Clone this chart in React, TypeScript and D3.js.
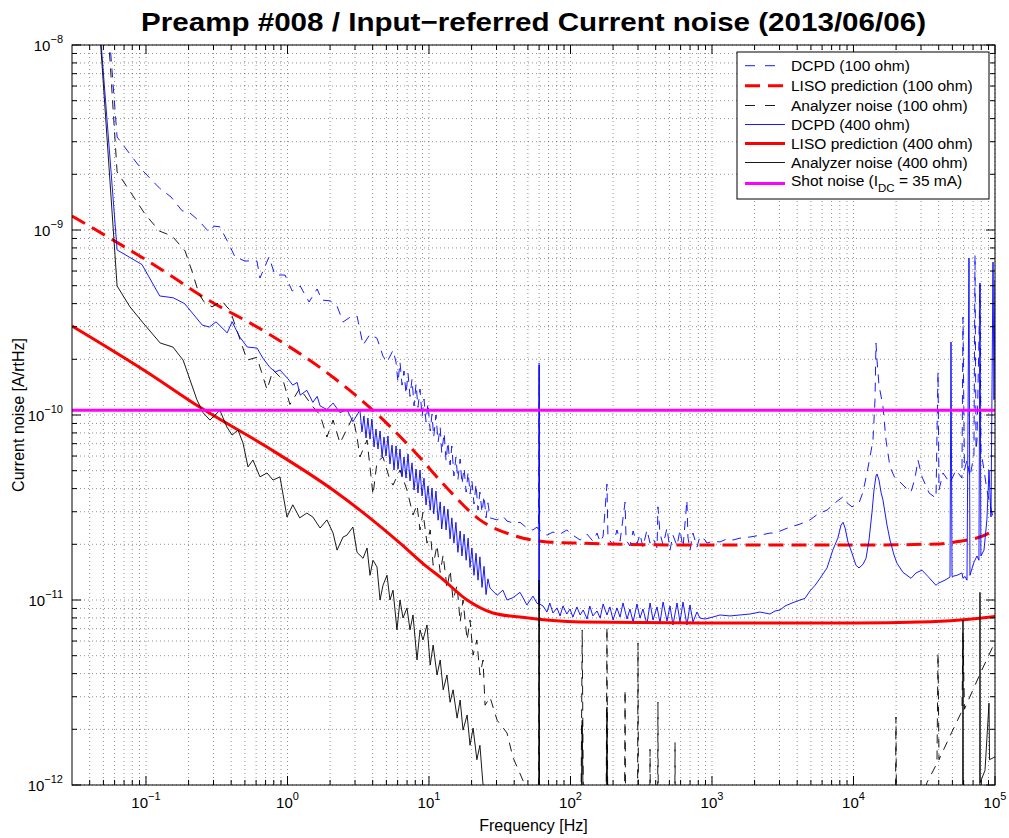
import React from 'react';
import * as d3 from 'd3';

// ---------------- data (frequency [Hz], current noise [A/rtHz]) ----------------
const xTickValues = [1e-1, 1e0, 1e1, 1e2, 1e3, 1e4, 1e5];
const xTickExps = ['\u22121', '0', '1', '2', '3', '4', '5'];
const yTickValues = [1e-12, 1e-11, 1e-10, 1e-9, 1e-8];
const yTickExps = ['\u221212', '\u221211', '\u221210', '\u22129', '\u22128'];

const shotNoise = 1.06e-10;

const liso100 = [
  [0.03, 1.19e-9], [0.155, 5.57e-10], [0.241, 4.45e-10], [0.717, 2.78e-10], [2.1, 1.6e-10],
  [4.02, 1.06e-10], [7.71, 6.47e-11], [13.4, 4.03e-11], [22.9, 2.71e-11], [39.2, 2.24e-11],
  [68.2, 2.06e-11], [117, 2.03e-11], [823, 1.98e-11], [10000, 1.98e-11], [40850, 2.01e-11],
  [56560, 2.08e-11], [78310, 2.19e-11], [100000, 2.39e-11],
];

const liso400 = [
  [0.03, 3.03e-10], [0.1, 1.72e-10], [0.241, 1.1e-10], [0.717, 6.71e-11], [2.1, 3.93e-11],
  [3.25, 3.06e-11], [6.24, 2.03e-11], [9.68, 1.51e-11], [12.0, 1.33e-11], [18.6, 1.0e-11],
  [28.3, 8.51e-12], [44.0, 8.09e-12], [117, 7.6e-12], [823, 7.51e-12], [10590, 7.51e-12],
  [29510, 7.6e-12], [56560, 7.8e-12], [100000, 8.15e-12],
];

const dcpd100 = [
  [0.05, 3.0e-8], [0.0625, 3.18e-9], [0.0938, 2.11e-9], [0.125, 1.68e-9], [0.15, 1.51e-9],
  [0.18, 1.27e-9], [0.201, 1.25e-9], [0.237, 1.12e-9], [0.279, 9.75e-10], [0.303, 1.05e-9],
  [0.333, 1.04e-9], [0.386, 8.38e-10], [0.426, 7.14e-10], [0.501, 6.8e-10], [0.608, 6.8e-10],
  [0.639, 5.5e-10], [0.74, 7.14e-10], [0.816, 5.71e-10], [0.96, 5.71e-10], [1.08, 4.68e-10],
  [1.23, 4.98e-10], [1.42, 4.08e-10], [1.62, 4.8e-10], [1.75, 4.18e-10], [2.0, 4.14e-10],
  [2.24, 3.88e-10], [2.47, 3.18e-10], [2.77, 3.38e-10], [3.1, 3.43e-10], [3.42, 2.39e-10],
  [3.83, 2.73e-10], [4.29, 2.6e-10], [4.73, 2.08e-10], [5.05, 1.93e-10], [5.57, 2.24e-10],
  [5.85, 1.93e-10], [6.04, 1.5e-10], [6.24, 1.93e-10], [6.45, 1.45e-10], [6.66, 1.73e-10],
  [6.88, 1.3e-10], [7.11, 1.68e-10], [7.34, 1.26e-10], [7.59, 1.56e-10], [7.84, 1.12e-10],
  [8.1, 1.47e-10], [8.36, 1.1e-10], [8.64, 1.38e-10], [8.93, 9.75e-11], [9.22, 1.22e-10],
  [9.53, 9.17e-11], [9.84, 1.16e-10], [10.2, 8.2e-11], [10.5, 1.01e-10], [10.8, 7.6e-11],
  [11.2, 1.0e-10], [11.6, 7.15e-11], [12.0, 8.61e-11], [12.3, 6.23e-11], [12.8, 8.0e-11],
  [13.2, 5.64e-11], [13.6, 7.15e-11], [14.1, 5.37e-11], [14.5, 6.8e-11], [15.0, 4.68e-11],
  [15.5, 5.93e-11], [16.0, 4.45e-11], [16.6, 5.78e-11], [17.1, 4.23e-11], [17.7, 5.17e-11],
  [18.3, 3.83e-11], [18.9, 4.92e-11], [19.5, 3.74e-11], [20.1, 4.45e-11], [20.8, 3.3e-11],
  [21.5, 4.23e-11], [22.2, 3.06e-11], [22.9, 3.83e-11], [23.7, 2.98e-11], [24.5, 3.65e-11],
  [25.3, 2.78e-11], [26.1, 3.35e-11], [27.0, 2.78e-11],
  [30.3, 2.71e-11], [33.3, 2.84e-11], [35.6, 2.67e-11], [39.2, 2.61e-11], [44.0, 2.63e-11],
  [49.2, 2.45e-11], [54.3, 2.39e-11], [58.0, 2.48e-11], [59.5, 2.39e-11], [60, 1.91e-10],
  [60.5, 2.39e-11], [68.2, 2.24e-11], [75.2, 2.33e-11], [84.4, 2.27e-11], [94.2, 2.39e-11],
  [104, 2.24e-11], [117, 2.11e-11], [131, 2.27e-11], [144, 2.08e-11], [154, 2.3e-11],
  [162, 2.06e-11], [170, 2.21e-11], [181, 4.23e-11], [184, 2.16e-11], [200, 1.98e-11],
  [213, 2.39e-11], [224, 2.08e-11], [243, 3.38e-11], [247, 2.11e-11], [263, 1.96e-11],
  [277, 2.36e-11], [295, 2.01e-11], [310, 2.27e-11], [325, 1.93e-11], [347, 2.39e-11],
  [365, 2.03e-11], [383, 2.16e-11], [409, 1.91e-11], [415, 3.19e-11], [429, 2.3e-11],
  [451, 1.98e-11], [481, 2.45e-11], [505, 1.86e-11], [530, 2.24e-11], [566, 1.96e-11],
  [594, 2.39e-11], [624, 1.91e-11], [665, 3.47e-11], [676, 2.19e-11], [699, 1.86e-11],
  [734, 2.3e-11], [783, 1.93e-11], [822, 2.21e-11], [893, 2.11e-11], [922, 2.03e-11],
  [1016, 2.08e-11], [1139, 2.06e-11], [1276, 2.14e-11], [1408, 2.11e-11], [1577, 2.16e-11],
  [1855, 2.19e-11], [2184, 2.24e-11], [2569, 2.3e-11], [2788, 2.3e-11], [3560, 2.48e-11],
  [4187, 2.57e-11], [4930, 2.71e-11], [5610, 2.92e-11], [6500, 3.06e-11], [7400, 3.35e-11],
  [8030, 3.51e-11], [8440, 3.61e-11], [9000, 3.35e-11], [9760, 3.19e-11], [10410, 3.27e-11],
  [10940, 3.35e-11], [11670, 3.83e-11], [12460, 4.86e-11], [13080, 5.93e-11], [13730, 7.32e-11],
  [14190, 1.21e-10], [14420, 2.45e-10], [14660, 1.98e-10], [15140, 1.45e-10], [16160, 1.11e-10],
  [16970, 7.32e-11], [18110, 5.24e-11], [19640, 4.56e-11], [21670, 4.29e-11], [23500, 4.03e-11],
  [25490, 3.83e-11], [27200, 4.56e-11], [28560, 5.71e-11], [30500, 4.63e-11], [34200, 3.79e-11],
  [38290, 3.55e-11], [39550, 1.71e-10], [40200, 3.93e-11], [42900, 4.86e-11], [48070, 4.29e-11],
  [53000, 5.04e-11], [58400, 4.56e-11], [59380, 3.38e-10], [60800, 5.04e-11], [63400, 5.71e-11],
  [66530, 4.63e-11], [71000, 6.08e-11], [72230, 7.33e-10], [73400, 6.47e-11], [74600, 7.32e-11],
  [78310, 5.04e-10], [79500, 6.47e-11], [83600, 5.04e-11], [87700, 3.93e-11], [92200, 3.27e-11],
  [96800, 2.81e-11], [100000, 2.98e-11],
];

const analyzer100 = [
  [0.05, 3.0e-8], [0.0625, 2.06e-9], [0.0795, 1.56e-9], [0.0984, 1.22e-9], [0.124, 9.88e-10],
  [0.153, 9.28e-10], [0.189, 7.7e-10], [0.211, 6.01e-10], [0.237, 4.51e-10], [0.257, 4.09e-10],
  [0.293, 3.84e-10], [0.344, 4.14e-10], [0.373, 3.84e-10], [0.392, 3.7e-10], [0.518, 1.98e-10],
  [0.608, 2.05e-10], [0.717, 1.37e-10], [0.79, 1.75e-10], [0.929, 1.55e-10], [1.04, 1.14e-10],
  [1.22, 1.39e-10], [1.51, 1.11e-10], [1.7, 1.0e-10], [1.9, 7.6e-11], [2.1, 9.39e-11],
  [2.35, 7.05e-11], [2.9, 9.75e-11], [3.1, 7.6e-11], [3.25, 5.93e-11], [3.65, 7.32e-11],
  [4.02, 3.7e-11], [4.29, 5.57e-11], [4.73, 5.93e-11], [5.3, 4.45e-11], [5.57, 4.18e-11],
  [6.24, 5.04e-11], [6.99, 3.93e-11], [7.71, 2.88e-11], [8.23, 3.27e-11], [8.64, 2.39e-11],
  [9.07, 2.98e-11], [9.68, 2.03e-11], [10.2, 2.39e-11], [10.7, 1.54e-11], [11.4, 1.98e-11],
  [12.0, 1.41e-11], [12.6, 1.75e-11], [13.4, 1.16e-11], [14.1, 1.45e-11], [14.8, 1.0e-11],
  [15.8, 1.2e-11], [16.6, 7.6e-12], [17.4, 1.0e-11], [18.6, 6.08e-12], [19.5, 7.8e-12],
  [20.5, 5.04e-12], [21.8, 6.08e-12], [22.9, 3.93e-12], [24.1, 4.74e-12], [24.9, 2.7e-12],
  [27.0, 2.98e-12], [30.3, 2.24e-12], [35.6, 1.91e-12], [39.2, 1.41e-12], [46.1, 1.06e-12],
  [51.7, 8.3e-13], [58.0, 6.5e-13], [59.5, 6.0e-13], [60, 1.2e-11], [60.5, 4e-13],
  [118, 4e-13], [121, 6.89e-12], [124, 4e-13], [178, 4e-13], [181, 7.14e-12], [184, 4e-13],
  [240, 4e-13], [243, 3.27e-12], [246, 4e-13], [297, 4e-13], [300, 5.86e-12], [303, 4e-13],
  [362, 4e-13], [365, 1.56e-12], [368, 4e-13], [412, 4e-13], [415, 2.8e-12], [418, 4e-13],
  [545, 4e-13], [548, 1.7e-12], [551, 4e-13], [19700, 4e-13], [19960, 2.33e-12], [20200, 4e-13],
  [29000, 7e-13], [33040, 1.03e-12], [38900, 1.31e-12], [39550, 5.17e-12], [40200, 1.37e-12],
  [48070, 1.84e-12], [58400, 2.51e-12], [59380, 6.63e-12], [60800, 2.57e-12], [78310, 3.98e-12],
  [100000, 5.93e-12],
];

const dcpd400 = [
  [0.045, 2.0e-8], [0.0625, 7.8e-10], [0.0938, 6.5e-10], [0.125, 4.4e-10], [0.156, 4.3e-10],
  [0.1875, 4.0e-10], [0.25, 3.06e-10], [0.281, 2.99e-10], [0.3125, 3.19e-10], [0.375, 2.78e-10],
  [0.406, 3.19e-10], [0.46, 2.64e-10], [0.52, 2.33e-10], [0.61, 2.3e-10], [0.67, 2.03e-10],
  [0.75, 1.81e-10], [0.82, 1.71e-10], [0.885, 1.75e-10], [1.0, 1.58e-10], [1.09, 1.45e-10],
  [1.17, 1.5e-10], [1.23, 1.28e-10], [1.37, 1.36e-10], [1.51, 1.17e-10], [1.62, 1.26e-10],
  [1.7, 1.12e-10], [1.9, 1.07e-10], [2.1, 1.16e-10], [2.35, 1.03e-10], [2.63, 1.07e-10],
  [2.9, 9.2e-11], [3.25, 1.06e-10], [3.36, 8.1e-11], [3.47, 9.88e-11], [3.59, 7.51e-11],
  [3.7, 9.63e-11], [3.83, 7.41e-11], [3.95, 9.51e-11], [4.09, 6.71e-11], [4.22, 8.4e-11],
  [4.36, 6.55e-11], [4.51, 8.2e-11], [4.66, 5.93e-11], [4.81, 7.6e-11], [4.97, 6.0e-11],
  [5.13, 7.7e-11], [5.3, 5.44e-11], [5.48, 6.88e-11], [5.66, 5.04e-11], [5.85, 6.8e-11],
  [6.04, 5.1e-11], [6.24, 6.55e-11], [6.45, 4.62e-11], [6.66, 5.93e-11], [6.88, 4.56e-11],
  [7.11, 6.15e-11], [7.34, 4.4e-11], [7.59, 5.51e-11], [7.84, 3.93e-11], [8.1, 5.1e-11],
  [8.36, 3.79e-11], [8.64, 5.04e-11], [8.93, 3.65e-11], [9.22, 4.56e-11], [9.53, 3.26e-11],
  [9.84, 4.13e-11], [10.2, 3.06e-11], [10.5, 4.03e-11], [10.8, 2.92e-11], [11.2, 3.88e-11],
  [11.6, 2.7e-11], [12.0, 3.39e-11], [12.3, 2.42e-11], [12.8, 3.22e-11], [13.2, 2.39e-11],
  [13.6, 3.1e-11], [14.1, 2.14e-11], [14.5, 2.78e-11], [15.0, 2.03e-11], [15.5, 2.63e-11],
  [16.0, 1.81e-11], [16.6, 2.36e-11], [17.1, 1.73e-11], [17.7, 2.27e-11], [18.3, 1.64e-11],
  [18.9, 2.16e-11], [19.5, 1.5e-11], [20.1, 1.91e-11], [20.8, 1.36e-11], [21.5, 1.79e-11],
  [22.2, 1.28e-11], [22.9, 1.71e-11], [23.7, 1.17e-11], [24.5, 1.52e-11], [25.3, 1.07e-11],
  [26.1, 1.3e-11], [27.0, 1.16e-11], [30.3, 1.06e-11], [33.3, 1.13e-11], [35.6, 1.0e-11],
  [39.2, 1.03e-11], [44.0, 1.1e-11], [49.2, 9.4e-12], [54.3, 1.05e-11], [58.0, 9.6e-12],
  [59.5, 9.5e-12], [60, 1.86e-10], [60.5, 9.5e-12], [64.0, 9.28e-12], [68.1, 8.61e-12],
  [71.4, 9.63e-12], [75.2, 8.51e-12], [80.3, 9.06e-12], [84.4, 8.2e-12], [88.5, 9.28e-12],
  [94.2, 8.4e-12], [99.2, 8.94e-12], [104, 8.09e-12], [111, 9.17e-12], [117, 8.3e-12],
  [123, 8.83e-12], [131, 7.89e-12], [137, 9.28e-12], [144, 8.2e-12], [154, 8.72e-12],
  [162, 7.99e-12], [170, 9.51e-12], [181, 8.3e-12], [190, 9.17e-12], [200, 7.8e-12],
  [213, 9.06e-12], [224, 8.09e-12], [235, 9.63e-12], [251, 7.89e-12], [263, 8.94e-12],
  [277, 7.6e-12], [295, 9.51e-12], [310, 7.99e-12], [325, 8.94e-12], [347, 7.42e-12],
  [365, 9.63e-12], [383, 7.8e-12], [409, 9.17e-12], [429, 7.51e-12], [451, 9.75e-12],
  [481, 7.7e-12], [505, 9.28e-12], [530, 7.33e-12], [566, 9.63e-12], [594, 7.6e-12],
  [624, 9.75e-12], [665, 7.33e-12], [699, 9.4e-12], [734, 7.6e-12], [783, 8.61e-12],
  [822, 7.99e-12], [893, 7.89e-12], [1016, 8.09e-12], [1139, 8.3e-12], [1340, 8.2e-12],
  [1577, 8.3e-12], [1855, 8.4e-12], [2184, 8.61e-12], [2569, 8.4e-12], [2788, 8.72e-12],
  [3025, 8.83e-12], [3282, 9.28e-12], [3676, 9.63e-12], [4187, 1.0e-11], [4540, 1.02e-11],
  [4930, 1.12e-11], [5350, 1.2e-11], [5800, 1.31e-11], [6500, 1.49e-11], [7140, 1.86e-11],
  [7750, 2.16e-11], [8160, 2.54e-11], [8440, 2.63e-11], [8720, 2.45e-11], [9140, 2.06e-11],
  [9760, 1.79e-11], [10410, 1.54e-11], [10940, 1.49e-11], [11670, 1.56e-11], [12260, 1.68e-11],
  [12870, 2.11e-11], [13510, 2.98e-11], [13960, 3.93e-11], [14420, 4.68e-11], [14660, 4.8e-11],
  [15140, 4.45e-11], [15640, 3.83e-11], [16160, 3.47e-11], [17250, 2.54e-11], [18110, 2.11e-11],
  [19330, 1.75e-11], [20290, 1.58e-11], [22380, 1.41e-11], [25490, 1.31e-11], [27650, 1.4e-11],
  [30500, 1.45e-11], [33600, 1.34e-11], [38290, 1.2e-11], [39550, 1.23e-11], [44300, 1.28e-11],
  [48070, 1.33e-11], [48880, 2.48e-10], [49700, 1.34e-11], [53900, 1.36e-11], [58400, 1.4e-11],
  [59380, 1.31e-11], [61400, 1.34e-11], [63400, 1.28e-11], [65490, 7.05e-10], [66530, 1.36e-11],
  [71000, 1.6e-11], [74600, 1.73e-11], [77000, 1.64e-11], [78310, 5.17e-10], [79500, 1.73e-11],
  [83600, 1.86e-11], [87700, 2.73e-11], [90720, 5.04e-11], [93700, 2.81e-11], [96800, 6.71e-10],
  [98400, 1.21e-10], [100000, 5.37e-10],
];

const analyzer400 = [
  [0.045, 2.0e-8], [0.0625, 4.98e-10], [0.0771, 3.84e-10], [0.0953, 3.15e-10], [0.126, 2.45e-10],
  [0.155, 2.33e-10], [0.183, 1.98e-10], [0.229, 1.21e-10], [0.253, 1.03e-10], [0.283, 9.39e-11],
  [0.333, 1.06e-10], [0.373, 8.61e-11], [0.406, 7.79e-11], [0.447, 8.29e-11], [0.485, 7.05e-11],
  [0.526, 5.24e-11], [0.57, 5.71e-11], [0.639, 4.63e-11], [0.717, 4.86e-11], [0.79, 4.45e-11],
  [0.885, 4.63e-11], [0.992, 2.81e-11], [1.09, 3.27e-11], [1.22, 2.78e-11], [1.37, 2.95e-11],
  [1.51, 2.81e-11], [1.7, 2.45e-11], [1.9, 2.71e-11], [2.1, 2.3e-11], [2.24, 1.86e-11],
  [2.47, 2.19e-11], [2.63, 2.24e-11], [2.9, 2.48e-11], [3.1, 1.81e-11], [3.42, 1.68e-11],
  [3.65, 1.91e-11], [3.83, 1.36e-11], [4.02, 1.64e-11], [4.29, 1.51e-11], [4.51, 1.0e-11],
  [4.73, 1.2e-11], [5.05, 1.36e-11], [5.3, 1.0e-11], [5.57, 1.13e-11], [5.94, 6.89e-12],
  [6.24, 1.0e-11], [6.55, 8.0e-12], [6.99, 9.06e-12], [7.34, 6.89e-12], [7.71, 8.3e-12],
  [8.23, 4.74e-12], [8.64, 6.89e-12], [9.07, 6.08e-12], [9.68, 7.33e-12], [10.2, 4.45e-12],
  [10.7, 5.71e-12], [11.4, 3.93e-12], [12.0, 4.74e-12], [12.6, 3.27e-12], [13.4, 3.93e-12],
  [14.1, 2.8e-12], [14.8, 3.27e-12], [15.8, 2.3e-12], [16.6, 2.88e-12], [17.4, 1.98e-12],
  [18.6, 2.39e-12], [19.5, 1.64e-12], [20.5, 2.03e-12], [21.8, 1.37e-12], [22.9, 1.64e-12],
  [24.1, 1.0e-12], [24.9, 8.3e-13], [27.0, 4.5e-13], [59.5, 4e-13], [60, 1.28e-11],
  [60.5, 4e-13], [118, 4e-13], [121, 2.24e-12], [124, 4e-13], [178, 4e-13], [181, 2.64e-12],
  [184, 4e-13], [59000, 4e-13], [59380, 7.8e-12], [59800, 4e-13], [78000, 4e-13],
  [78310, 1.1e-11], [78600, 1.03e-12], [85000, 1.2e-12], [90720, 2.77e-12], [91500, 1.37e-12],
  [100000, 1.42e-12],
];

// ---------------- chart ----------------
const W = 1009;
const H = 838;
const PL = 72, PR = 995, PT = 45, PB = 785;
const FONT = "'Liberation Sans', Arial, Helvetica, sans-serif";

type S = { name: string; data: number[][]; color: string; width: number; dash?: string; smooth?: boolean };

export default function App() {
  const x = d3.scaleLog().domain([0.03, 1e5]).range([PL, PR]);
  const y = d3.scaleLog().domain([1e-12, 1e-8]).range([PB, PT]);

  const lineGen = d3.line<number[]>().x((d) => x(d[0])).y((d) => y(d[1]));
  const smoothGen = d3
    .line<number[]>()
    .x((d) => x(d[0]))
    .y((d) => y(d[1]))
    .curve(d3.curveMonotoneX);

  const shotData = [
    [x.domain()[0], shotNoise],
    [x.domain()[1], shotNoise],
  ];

  const series: S[] = [
    { name: 'DCPD (100 ohm)', data: dcpd100, color: '#0000ff', width: 0.9, dash: '9,7' },
    { name: 'LISO prediction (100 ohm)', data: liso100, color: '#ff0000', width: 3, dash: '15,8', smooth: true },
    { name: 'Analyzer noise (100 ohm)', data: analyzer100, color: '#000000', width: 0.9, dash: '9,7' },
    { name: 'DCPD (400 ohm)', data: dcpd400, color: '#0000ff', width: 0.9 },
    { name: 'LISO prediction (400 ohm)', data: liso400, color: '#ff0000', width: 3, smooth: true },
    { name: 'Analyzer noise (400 ohm)', data: analyzer400, color: '#000000', width: 0.9 },
    { name: 'Shot noise', data: shotData, color: '#ff00ff', width: 3 },
  ];

  const xMinor: number[] = [];
  for (let e = -2; e <= 4; e++) for (let k = 2; k <= 9; k++) {
    const v = k * Math.pow(10, e);
    if (v > 0.03 && v <= 1e5) xMinor.push(v);
  }
  const yMinor: number[] = [];
  for (let e = -12; e <= -9; e++) for (let k = 2; k <= 9; k++) yMinor.push(k * Math.pow(10, e));

  const gridStyle = { stroke: '#000', strokeWidth: 0.8, strokeDasharray: '1,3', strokeOpacity: 0.55 };

  const legendX = 737, legendY = 52, legendW = 252, legendH = 147;
  const legendRows = [65.7, 85.7, 105.5, 124.5, 143.5, 162.5, 183.5];

  return (
    <svg
      width={W}
      height={H}
      style={{ position: 'absolute', left: 0, top: 0, background: '#fff' }}
      fontFamily={FONT}
    >
      <rect x={0} y={0} width={W} height={H} fill="#fff" />
      <defs>
        <clipPath id="plotclip">
          <rect x={PL} y={PT} width={PR - PL} height={PB - PT} />
        </clipPath>
      </defs>

      {/* grid */}
      <g>
        {[...xMinor, ...xTickValues].map((v, i) => (
          <line key={'gx' + i} x1={x(v)} x2={x(v)} y1={PT} y2={PB} {...gridStyle} />
        ))}
        {[...yMinor, ...yTickValues].map((v, i) => (
          <line key={'gy' + i} x1={PL} x2={PR} y1={y(v)} y2={y(v)} {...gridStyle} />
        ))}
      </g>

      {/* series */}
      <g clipPath="url(#plotclip)" fill="none">
        {series.map((s, i) => (
          <path
            key={'s' + i}
            d={(s.smooth ? smoothGen : lineGen)(s.data) || ''}
            stroke={s.color}
            strokeWidth={s.width}
            strokeDasharray={s.dash}
            strokeLinejoin="round"
          />
        ))}
      </g>

      {/* axes box and ticks */}
      <g stroke="#000" strokeWidth={1}>
        <rect x={PL} y={PT} width={PR - PL} height={PB - PT} fill="none" />
        {xTickValues.map((v, i) => (
          <g key={'xt' + i}>
            <line x1={x(v)} x2={x(v)} y1={PB} y2={PB - 9} />
            <line x1={x(v)} x2={x(v)} y1={PT} y2={PT + 9} />
          </g>
        ))}
        {xMinor.map((v, i) => (
          <g key={'xm' + i}>
            <line x1={x(v)} x2={x(v)} y1={PB} y2={PB - 5} />
            <line x1={x(v)} x2={x(v)} y1={PT} y2={PT + 5} />
          </g>
        ))}
        {yTickValues.map((v, i) => (
          <g key={'yt' + i}>
            <line x1={PL} x2={PL + 9} y1={y(v)} y2={y(v)} />
            <line x1={PR} x2={PR - 9} y1={y(v)} y2={y(v)} />
          </g>
        ))}
        {yMinor.map((v, i) => (
          <g key={'ym' + i}>
            <line x1={PL} x2={PL + 5} y1={y(v)} y2={y(v)} />
            <line x1={PR} x2={PR - 5} y1={y(v)} y2={y(v)} />
          </g>
        ))}
      </g>

      {/* tick labels */}
      <g fontSize={15} fill="#000">
        {xTickValues.map((v, i) => (
          <text key={'xl' + i} x={x(v)} y={PB + 23} textAnchor="middle">
            10
            <tspan fontSize={11} dy={-8}>{xTickExps[i]}</tspan>
          </text>
        ))}
        {yTickValues.map((v, i) => (
          <text key={'yl' + i} x={PL - 9} y={y(v) + 6} textAnchor="end">
            10
            <tspan fontSize={11} dy={-8}>{yTickExps[i]}</tspan>
          </text>
        ))}
      </g>

      {/* axis labels & title */}
      <text x={(PL + PR) / 2} y={831} textAnchor="middle" fontSize={16}>Frequency [Hz]</text>
      <text
        transform={`translate(24, ${(PT + PB) / 2}) rotate(-90)`}
        textAnchor="middle"
        fontSize={16}
      >
        Current noise [A/rtHz]
      </text>
      <text
        x={(PL + PR) / 2}
        y={31}
        textAnchor="middle"
        fontSize={26}
        fontWeight="bold"
        textLength={785}
        lengthAdjust="spacingAndGlyphs"
      >
        Preamp #008 / Input{'\u2212'}referred Current noise (2013/06/06)
      </text>

      {/* legend */}
      <g>
        <rect x={legendX} y={legendY} width={legendW} height={legendH} fill="#fff" stroke="#000" strokeWidth={1} />
        {series.map((s, i) => (
          <g key={'lg' + i}>
            <line
              x1={745}
              x2={785}
              y1={legendRows[i]}
              y2={legendRows[i]}
              stroke={s.color}
              strokeWidth={s.width}
              strokeDasharray={s.dash ? (s.width > 2 ? '15,8' : '10,10') : undefined}
            />
            {i < 6 ? (
              <text x={791} y={legendRows[i] + 5.5} fontSize={15.5}>{s.name}</text>
            ) : (
              <text x={791} y={legendRows[i] + 2} fontSize={15.5}>
                Shot noise (I
                <tspan fontSize={11.5} dy={6}>DC</tspan>
                <tspan dy={-6}> = 35 mA)</tspan>
              </text>
            )}
          </g>
        ))}
      </g>
    </svg>
  );
}
